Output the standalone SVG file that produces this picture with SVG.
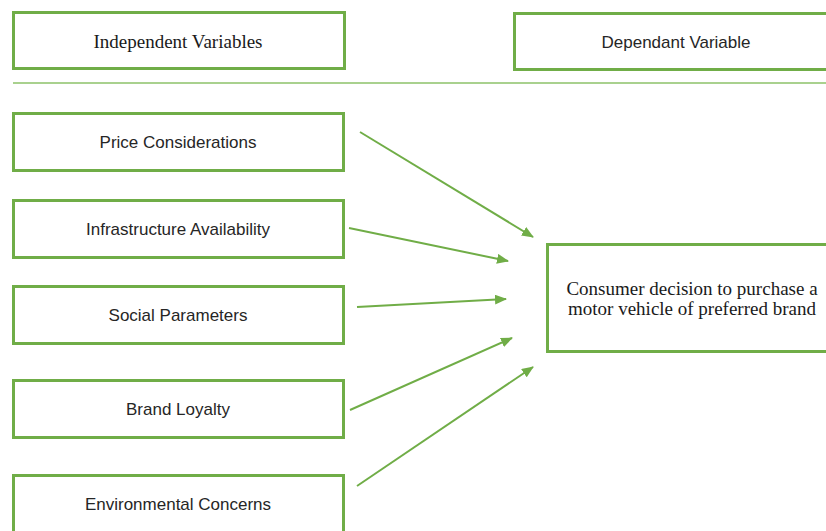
<svg xmlns="http://www.w3.org/2000/svg" width="826" height="531" viewBox="0 0 826 531">
  <defs>
    <marker id="arrow" viewBox="0 0 12 10" refX="11" refY="5" markerWidth="12" markerHeight="10" markerUnits="userSpaceOnUse" orient="auto">
      <path d="M0,0 L12,5 L0,10 z" fill="#70ad47"/>
    </marker>
    <style>
      .box { fill: #ffffff; stroke: #70ad47; stroke-width: 3; }
      .sans { font-family: "Liberation Sans", Arial, sans-serif; font-size: 17px; fill: #262626; text-anchor: middle; }
      .serif { font-family: "Liberation Serif", "Times New Roman", serif; font-size: 19px; fill: #1a1a1a; text-anchor: middle; }
      .link { stroke: #70ad47; stroke-width: 2; fill: none; marker-end: url(#arrow); }
    </style>
  </defs>
  <rect width="826" height="531" fill="#ffffff"/>

  <!-- headings -->
  <g id="independent-heading">
    <rect class="box" x="13.5" y="12.5" width="331" height="56"/>
    <text class="serif" x="178" y="48">Independent Variables</text>
  </g>
  <g id="dependent-heading">
    <rect class="box" x="514.5" y="13.5" width="320" height="56"/>
    <text class="sans" x="676" y="48">Dependant Variable</text>
  </g>
  <line x1="13" y1="83" x2="826" y2="83" stroke="#a9d18e" stroke-width="2"/>

  <!-- independent variables -->
  <g id="price">
    <rect class="box" x="13.5" y="113.5" width="330" height="57"/>
    <text class="sans" x="178" y="148">Price Considerations</text>
  </g>
  <g id="infrastructure">
    <rect class="box" x="13.5" y="200.5" width="330" height="57"/>
    <text class="sans" x="178" y="235">Infrastructure Availability</text>
  </g>
  <g id="social">
    <rect class="box" x="13.5" y="286.5" width="330" height="57"/>
    <text class="sans" x="178" y="321">Social Parameters</text>
  </g>
  <g id="brand">
    <rect class="box" x="13.5" y="380.5" width="330" height="57"/>
    <text class="sans" x="178" y="415">Brand Loyalty</text>
  </g>
  <g id="environment">
    <rect class="box" x="13.5" y="475.5" width="330" height="57"/>
    <text class="sans" x="178" y="510">Environmental Concerns</text>
  </g>

  <!-- dependent variable -->
  <g id="decision">
    <rect class="box" x="547.5" y="244.5" width="290" height="107"/>
    <text class="serif" x="692" y="295">Consumer decision to purchase a</text>
    <text class="serif" x="692" y="315">motor vehicle of preferred brand</text>
  </g>

  <!-- connectors -->
  <g id="connectors">
    <line class="link" x1="360" y1="132" x2="533" y2="237"/>
    <line class="link" x1="349" y1="228" x2="508" y2="261"/>
    <line class="link" x1="357" y1="307" x2="506" y2="299"/>
    <line class="link" x1="350" y1="410" x2="512" y2="338"/>
    <line class="link" x1="357" y1="486" x2="533" y2="367"/>
  </g>
</svg>
